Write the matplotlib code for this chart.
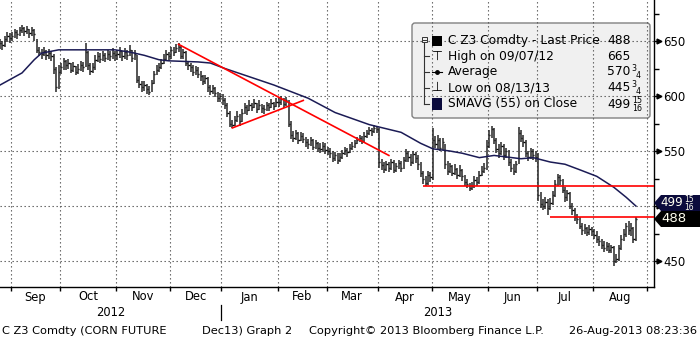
import numpy as np
import pandas as pd
import matplotlib
matplotlib.use('Agg')
import matplotlib.pyplot as plt
import matplotlib.transforms as mtransforms
from matplotlib.patches import Polygon, FancyBboxPatch, Rectangle

plt.rcParams['font.family'] = 'DejaVu Sans'

# ---------------------------------------------------------------
# Data: daily bars of C Z3 (Dec13 corn)
# ---------------------------------------------------------------
start_date = '2012-08-27'
end_date = '2013-08-26'

close_aug12 = [648, 646, 652, 655, 653]
high_aug12 = [652, 650, 655, 658, 657]
low_aug12 = [643, 642, 645, 649, 648]

close_sep12 = [655, 658, 656, 660, 662, 659, 661, 657, 660, 656, 642, 640, 638, 641, 637, 639, 636, 625, 608, 622]
high_sep12 = [658, 661, 660, 663, 665, 663, 664, 661, 663, 661, 652, 645, 643, 645, 642, 643, 641, 638, 626, 628]
low_sep12 = [650, 653, 652, 655, 657, 655, 656, 653, 655, 650, 639, 636, 634, 636, 633, 634, 632, 620, 604, 606]

close_oct12 = [626, 632, 628, 630, 624, 627, 622, 625, 628, 626, 640, 628, 623, 626, 633, 636, 634, 637, 635, 638, 636, 639, 637]
high_oct12 = [630, 635, 633, 634, 630, 631, 627, 629, 632, 631, 648, 641, 630, 630, 637, 640, 639, 641, 639, 642, 641, 644, 641]
low_oct12 = [620, 624, 624, 625, 621, 622, 619, 620, 623, 622, 626, 624, 619, 621, 624, 631, 630, 632, 631, 633, 632, 634, 632]

close_nov12 = [638, 641, 636, 640, 637, 642, 635, 638, 615, 611, 608, 610, 606, 604, 612, 620, 624, 626, 630, 634, 638, 636]
high_nov12 = [642, 645, 641, 644, 642, 646, 642, 642, 637, 618, 614, 614, 611, 609, 615, 623, 628, 630, 634, 638, 642, 640]
low_nov12 = [633, 635, 632, 634, 633, 636, 631, 633, 612, 607, 604, 605, 602, 601, 604, 611, 619, 622, 625, 629, 633, 632]

close_dec12 = [642, 640, 644, 645, 636, 640, 630, 628, 626, 622, 624, 620, 618, 614, 616, 608, 605, 607, 603, 598, 600]
high_dec12 = [645, 645, 647, 648, 646, 643, 641, 632, 630, 628, 627, 626, 623, 619, 619, 617, 610, 610, 608, 604, 603]
low_dec12 = [634, 636, 639, 640, 634, 634, 627, 624, 622, 618, 619, 616, 614, 610, 611, 604, 601, 602, 599, 595, 595]

close_jan13 = [596, 592, 585, 575, 574, 578, 582, 577, 585, 590, 587, 592, 590, 594, 588, 592, 589, 588, 592, 590, 594, 591, 595]
high_jan13 = [602, 598, 594, 586, 578, 582, 586, 584, 588, 594, 592, 596, 594, 597, 594, 596, 593, 592, 595, 594, 597, 595, 598]
low_jan13 = [592, 588, 581, 572, 571, 573, 576, 573, 576, 584, 583, 586, 586, 589, 585, 587, 585, 584, 586, 586, 589, 587, 590]

close_feb13 = [595, 597, 593, 596, 575, 565, 562, 566, 560, 564, 561, 558, 556, 560, 554, 557, 553, 552, 555, 551]
high_feb13 = [598, 600, 598, 599, 596, 577, 568, 569, 567, 567, 566, 563, 561, 563, 561, 560, 558, 557, 558, 557]
low_feb13 = [590, 592, 589, 591, 572, 561, 558, 560, 556, 559, 557, 554, 552, 555, 551, 552, 549, 548, 549, 547]

close_mar13 = [550, 548, 544, 546, 542, 545, 548, 551, 549, 553, 555, 557, 560, 562, 559, 564, 566, 569, 568, 571, 570]
high_mar13 = [554, 553, 550, 549, 548, 548, 551, 554, 553, 556, 558, 560, 563, 565, 564, 567, 569, 572, 571, 574, 573]
low_mar13 = [546, 544, 540, 541, 538, 540, 543, 546, 545, 548, 551, 553, 556, 558, 556, 558, 562, 565, 564, 566, 566]

close_apr13 = [540, 537, 534, 538, 535, 540, 533, 536, 539, 535, 542, 548, 545, 540, 547, 544, 538, 530, 525, 521, 528, 526]
high_apr13 = [571, 543, 540, 541, 540, 543, 542, 539, 542, 541, 545, 552, 550, 547, 550, 549, 546, 540, 532, 527, 532, 531]
low_apr13 = [535, 533, 530, 532, 531, 533, 530, 531, 534, 531, 534, 540, 540, 536, 538, 539, 533, 526, 520, 518, 519, 522]

close_may13 = [560, 556, 560, 553, 558, 538, 532, 536, 530, 534, 528, 533, 527, 522, 520, 516, 518, 524, 522, 528, 532, 535, 555]
high_may13 = [571, 564, 565, 562, 562, 556, 541, 539, 537, 538, 535, 537, 534, 528, 525, 521, 522, 527, 526, 532, 536, 539, 560]
low_may13 = [524, 553, 552, 550, 551, 534, 528, 530, 527, 528, 525, 526, 523, 518, 516, 514, 515, 516, 518, 520, 527, 530, 533]

close_jun13 = [565, 570, 560, 552, 548, 555, 546, 550, 540, 535, 532, 538, 566, 562, 558, 548, 545, 550, 546, 545]
high_jun13 = [569, 573, 571, 562, 556, 558, 556, 553, 551, 543, 538, 541, 572, 569, 565, 560, 550, 553, 552, 550]
low_jun13 = [553, 562, 556, 548, 544, 546, 542, 544, 536, 531, 528, 530, 538, 558, 554, 545, 541, 543, 542, 540]

close_jul13 = [510, 502, 500, 504, 498, 503, 510, 520, 526, 524, 515, 508, 512, 500, 496, 490, 488, 482, 478, 480, 476, 479, 477]
high_jul13 = [548, 513, 506, 508, 506, 507, 514, 524, 529, 528, 525, 517, 515, 513, 503, 498, 493, 490, 485, 484, 481, 483, 481]
low_jul13 = [505, 498, 496, 497, 492, 496, 501, 508, 518, 519, 512, 504, 505, 497, 492, 486, 484, 479, 474, 475, 473, 474, 473]

close_aug13 = [474, 470, 468, 465, 462, 464, 460, 463, 450, 452, 462, 470, 475, 482, 478, 480, 470, 488]
high_aug13 = [479, 477, 473, 470, 468, 467, 466, 465, 464, 456, 465, 474, 479, 485, 486, 485, 481, 490]
low_aug13 = [470, 466, 464, 461, 458, 459, 457, 457, 445.75, 448, 450, 460, 468, 472, 474, 473, 466, 468]

# 55-day simple moving average, read at a few dates
sma_dates = ['2012-08-27', '2012-09-07', '2012-09-14', '2012-09-19', '2012-09-28', '2012-10-31',
             '2012-11-08', '2012-11-16', '2012-11-26', '2012-11-30', '2012-12-18', '2012-12-25',
             '2013-01-02', '2013-01-30', '2013-02-19', '2013-03-06', '2013-03-26', '2013-04-12',
             '2013-04-24', '2013-05-01', '2013-05-10', '2013-05-17', '2013-05-28', '2013-06-05',
             '2013-06-20', '2013-06-27', '2013-07-08', '2013-07-16', '2013-07-24', '2013-08-02',
             '2013-08-13', '2013-08-20', '2013-08-26']
sma_values = [610, 621, 633, 639, 642, 642, 640, 637, 633, 632, 631, 630, 625, 610, 598, 585, 574,
              567, 557, 552, 550, 548, 544, 546, 543, 544, 540, 538, 533, 527, 517, 508, 500]

# Red trend lines drawn by the user
downtrend_dates = ['2012-12-06', '2013-04-05']
downtrend_values = [647, 546]
uptrend_dates = ['2013-01-07', '2013-02-15']
uptrend_values = [571, 596]
support_dates = ['2013-04-25', '2013-07-08']
support_values = [518, 490]

y_ticks = [450, 500, 550, 600, 650]
y_tick_labels = ['450', '', '550', '600', '650']   # 500 sits under the value tags
y_minor = [475, 525, 575, 625, 675]

legend_rows = ['C Z3 Comdty - Last Price', 'High on 09/07/12', 'Average',
               'Low on 08/13/13', 'SMAVG (55) on Close']
# (whole part, fraction numerator, fraction denominator)
legend_values = [('488', '', ''), ('665', '', ''), ('570', '3', '4'),
                 ('445', '3', '4'), ('499', '15', '16')]


def draw_value(ax, tr, x, y, whole, num, den, size, color='black', z=5, stacked=False):
    """Price with a Bloomberg style small fraction after it."""
    ax.text(x, y, whole, transform=tr, ha='left', va='center', fontsize=size,
            color=color, zorder=z)
    if not num:
        return
    x_end = x + 0.636 * size * 100 / 72 * len(whole) + 1.5
    small = size * 0.64
    if stacked:
        ax.text(x_end, y + 0.3, num + '\n' + den, transform=tr, ha='left', va='center',
                fontsize=small, linespacing=0.85, color=color, zorder=z)
        return
    ax.text(x_end, y - 3.0, num, transform=tr, ha='left', va='center', fontsize=small,
            color=color, zorder=z)
    ax.text(x_end + 3.8, y + 3.4, den, transform=tr, ha='left', va='center', fontsize=small,
            color=color, zorder=z)


def main():
    closes = np.array(close_aug12 + close_sep12 + close_oct12 + close_nov12 + close_dec12 +
                      close_jan13 + close_feb13 + close_mar13 + close_apr13 + close_may13 +
                      close_jun13 + close_jul13 + close_aug13, dtype=float)
    highs = np.array(high_aug12 + high_sep12 + high_oct12 + high_nov12 + high_dec12 +
                     high_jan13 + high_feb13 + high_mar13 + high_apr13 + high_may13 +
                     high_jun13 + high_jul13 + high_aug13, dtype=float)
    lows = np.array(low_aug12 + low_sep12 + low_oct12 + low_nov12 + low_dec12 +
                    low_jan13 + low_feb13 + low_mar13 + low_apr13 + low_may13 +
                    low_jun13 + low_jul13 + low_aug13, dtype=float)

    # axis runs a bit past the last bar
    axis_dates = pd.bdate_range(start_date, '2013-09-10')
    n_bars = len(pd.bdate_range(start_date, end_date))
    idx = np.arange(n_bars)

    def loc(d):
        return axis_dates.get_loc(pd.Timestamp(d))

    fig = plt.figure(figsize=(7.0, 3.39), dpi=100)
    ax = fig.add_axes([0, 52 / 339, 654 / 700, 287 / 339])
    # pixel coords (top-left origin) of the 700x339 image
    pix = mtransforms.Affine2D().scale(1 / 700, -1 / 339).translate(0, 1) + fig.transFigure

    x_min, x_max = 0.0, 267.4
    ax.set_xlim(x_min, x_max)
    ax.set_ylim(426.4, 687.3)

    # month boundaries
    bounds = [i - 0.5 for i in range(1, len(axis_dates))
              if axis_dates[i].month != axis_dates[i - 1].month]
    grid_kw = dict(color='#555555', lw=0.8, ls=(0, (1.2, 2.4)), zorder=2)
    for b in bounds:
        ax.axvline(b, **grid_kw)
    for y in y_ticks:
        ax.axhline(y, **grid_kw)

    # legend box (gridlines show through it)
    ax.add_patch(FancyBboxPatch((412, 23), 238, 95, boxstyle='round,pad=0,rounding_size=3',
                                fc='#f0f0f0', ec='#808080', lw=1, transform=pix,
                                zorder=1.5, clip_on=False))

    # price bars
    ax.vlines(idx, lows, highs, colors='#262626', lw=1.1, zorder=3)
    ax.hlines(closes, idx, idx + 0.5, colors='black', lw=1.0, zorder=3)

    # moving average
    ax.plot([loc(d) for d in sma_dates], sma_values, color='#1b1b55', lw=1.1, zorder=4)

    # trend lines
    ax.plot([loc(d) for d in downtrend_dates], downtrend_values, color='#ff0000', lw=1.2, zorder=4)
    ax.plot([loc(d) for d in uptrend_dates], uptrend_values, color='#ff0000', lw=1.2, zorder=4)
    for d, v in zip(support_dates, support_values):
        ax.hlines(v, loc(d), x_max, colors='#ff0000', lw=1.2, zorder=4)

    # right axis
    for s in ['top', 'left']:
        ax.spines[s].set_visible(False)
    ax.spines['right'].set_linewidth(1.0)
    ax.spines['bottom'].set_linewidth(1.0)
    ax.yaxis.tick_right()
    ax.set_yticks(y_ticks)
    ax.set_yticklabels(y_tick_labels, fontsize=8.5)
    ax.set_yticks(y_minor, minor=True)
    ax.tick_params(axis='y', which='major', length=3, width=1, pad=3.5, direction='out')
    ax.tick_params(axis='y', which='minor', length=3.5, width=1, direction='out')
    ytrans = mtransforms.blended_transform_factory(ax.transAxes, ax.transData)
    ax.plot([1 + 4.5 / 654] * len(y_ticks), y_ticks, ls='none', marker='>', ms=3.5,
            color='black', transform=ytrans, clip_on=False, zorder=5)

    # bottom axis: ticks at month boundaries, labels in between
    ax.set_xticks(bounds)
    ax.set_xticklabels([])
    ax.tick_params(axis='x', length=3, width=1, direction='out')
    xtrans = mtransforms.blended_transform_factory(ax.transData, ax.transAxes)
    for b0, b1 in zip(bounds[:-1], bounds[1:]):
        month = axis_dates[int(b0 + 0.5)].strftime('%b')
        ax.text((b0 + b1) / 2, 1 - 297 / 287, month, transform=xtrans,
                ha='center', va='center', fontsize=8.3)
    jan = [b for b in bounds if axis_dates[int(b + 0.5)].month == 1][0]
    ax.text((x_min + jan) / 2, 1 - 313 / 287, '2012', transform=xtrans,
            ha='center', va='center', fontsize=8.3)
    ax.text((jan + x_max) / 2, 1 - 313 / 287, '2013', transform=xtrans,
            ha='center', va='center', fontsize=8.3)
    ax.plot([jan, jan], [1 - 305 / 287, 1 - 320 / 287], color='black', lw=0.9,
            transform=xtrans, clip_on=False)

    # legend contents
    row_y = [40.7, 56.2, 71.9, 87.8, 104.0]
    ax.plot([424, 424], [42, 104], color='#333333', lw=0.8, transform=pix, clip_on=False, zorder=5)
    for yy in row_y[1:]:
        ax.plot([424, 429], [yy, yy], color='#333333', lw=0.8, transform=pix, clip_on=False, zorder=5)
    ax.add_patch(Rectangle((421.5, 37), 5, 5, fc='#f0f0f0', ec='#333333', lw=0.7,
                           transform=pix, clip_on=False, zorder=6))
    ax.plot([422.5, 425.5], [39.5, 39.5], color='#333333', lw=0.7, transform=pix,
            clip_on=False, zorder=7)
    ax.add_patch(Rectangle((432, 36), 10, 10, fc='black', ec='none', transform=pix,
                           clip_on=False, zorder=5))
    ax.add_patch(Rectangle((432, 97.5), 10, 12, fc='#0b0b3c', ec='none', transform=pix,
                           clip_on=False, zorder=5))
    ax.text(437, row_y[1], '\u22a4', transform=pix, ha='center', va='center', fontsize=9, zorder=5)
    ax.text(437, row_y[3], '\u22a5', transform=pix, ha='center', va='center', fontsize=9, zorder=5)
    ax.plot([432, 442], [row_y[2], row_y[2]], color='black', lw=0.8, transform=pix,
            clip_on=False, zorder=5)
    ax.plot([437], [row_y[2]], marker='o', ms=2.5, color='black', transform=pix,
            clip_on=False, zorder=5)
    for yy, label, (whole, num, den) in zip(row_y, legend_rows, legend_values):
        ax.text(448, yy, label, transform=pix, ha='left', va='center', fontsize=8.8, zorder=5)
        draw_value(ax, pix, 607, yy, whole, num, den, 8.8, stacked=(len(num) > 1))

    # value tags on the right
    ax.add_patch(Polygon([(654, 203), (661, 195), (700, 195), (700, 211), (661, 211)],
                         closed=True, fc='#0b0b3c', ec='none', transform=pix,
                         clip_on=False, zorder=8))
    ax.add_patch(Polygon([(654, 219), (661, 211), (700, 211), (700, 227), (661, 227)],
                         closed=True, fc='black', ec='none', transform=pix,
                         clip_on=False, zorder=8))
    draw_value(ax, pix, 660, 203, '499', '15', '16', 8.6, color='#fffff0', z=9, stacked=True)
    ax.text(661, 219, '488', transform=pix, ha='left', va='center',
            fontsize=9.5, color='#fffff0', zorder=9)

    # footer
    foot_y = 1 - 331 / 339
    fig.text(2 / 700, foot_y, 'C Z3 Comdty (CORN FUTURE', fontsize=8.2, va='center')
    fig.text(202 / 700, foot_y, 'Dec13) Graph 2', fontsize=8.2, va='center')
    fig.text(309 / 700, foot_y, 'Copyright\u00a9 2013 Bloomberg Finance L.P.', fontsize=8.2, va='center')
    fig.text(697 / 700, foot_y, '26-Aug-2013 08:23:36', fontsize=8.2, va='center', ha='right')

    fig.savefig('out.png', dpi=100)
    plt.close(fig)


if __name__ == "__main__":
    main()
